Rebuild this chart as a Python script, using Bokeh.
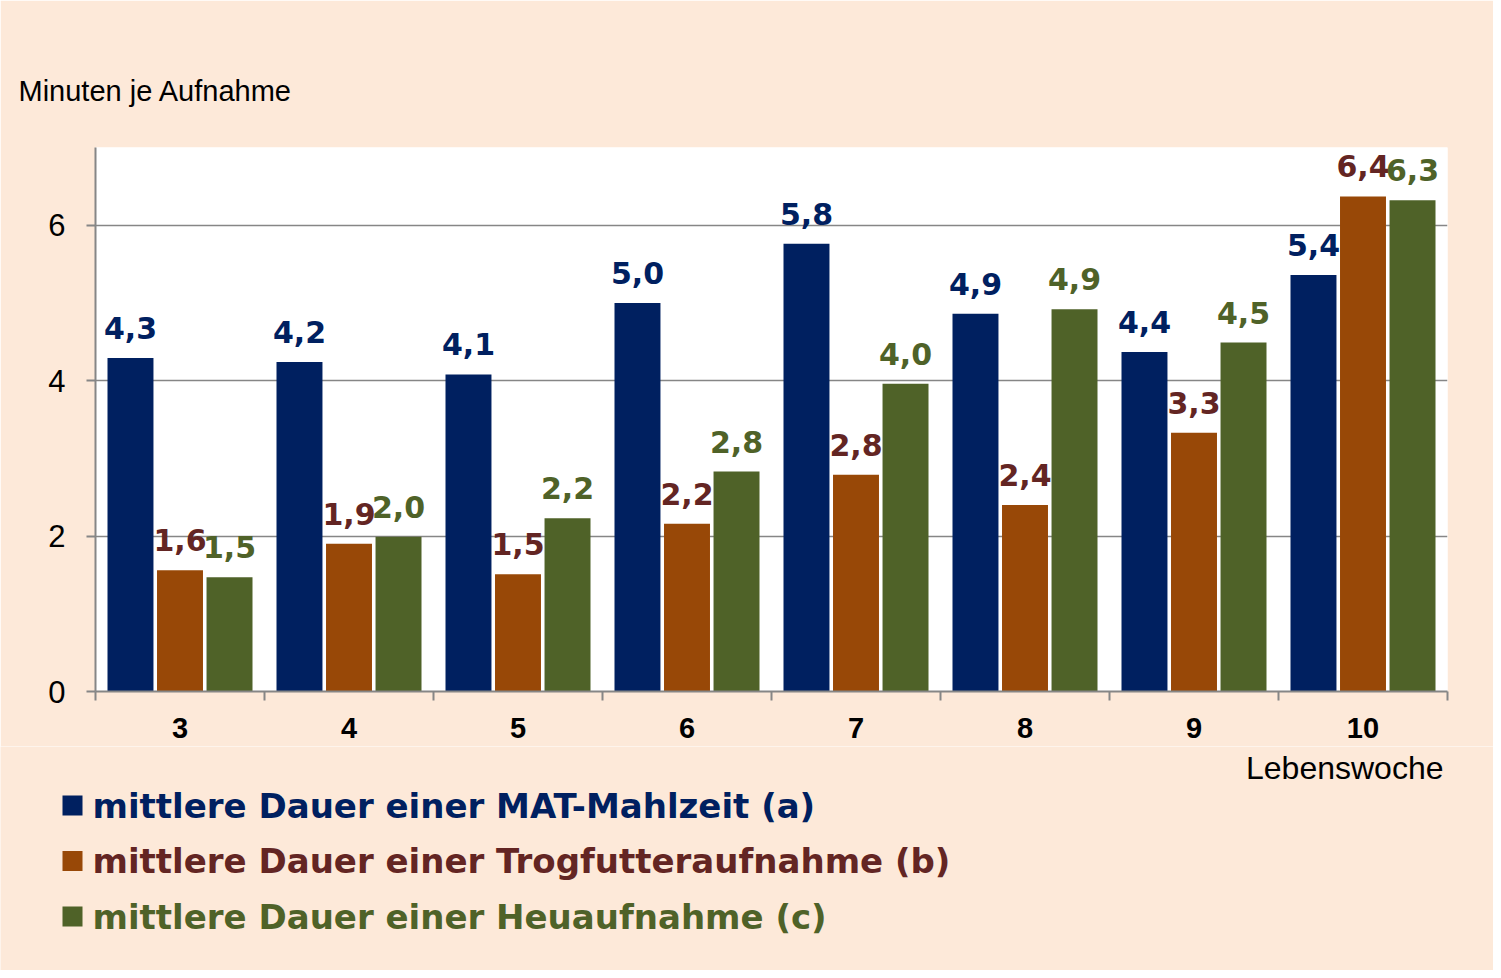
import numpy as np
from bokeh.plotting import figure
from bokeh.models import (ColumnDataSource, Range1d, FixedTicker, LabelSet)
from bokeh.core.properties import value
from bokeh.embed import file_html
from bokeh.resources import INLINE

# ---------------- data ----------------
weeks = ["3", "4", "5", "6", "7", "8", "9", "10"]
mat_mahlzeit = [4.29, 4.24, 4.08, 5.00, 5.76, 4.86, 4.37, 5.36]
trogfutter = [1.56, 1.90, 1.51, 2.16, 2.79, 2.40, 3.33, 6.37]
heu = [1.47, 1.99, 2.23, 2.83, 3.96, 4.92, 4.49, 6.32]
series_names = [
    "mittlere Dauer einer MAT-Mahlzeit (a)",
    "mittlere Dauer einer Trogfutteraufnahme (b)",
    "mittlere Dauer einer Heuaufnahme (c)",
]
y_ticks = [0, 2, 4, 6]
y_title = "Minuten  je Aufnahme"
x_title = "Lebenswoche"

# ---------------- style ----------------
BG = "#FDE9D9"
GRAY = "#868686"
bar_colors = ["#002060", "#984807", "#4F6228"]
text_colors = ["#002060", "#632523", "#4F6228"]
offsets = [-0.293, 0.0, 0.293]
BAR_W = 0.272
TOTAL_W = 1493

n = len(weeks)
pos = np.arange(n) + 0.5

p = figure(frame_width=1352, frame_height=544,
           x_range=Range1d(0, n), y_range=Range1d(0, 7),
           output_backend="svg", toolbar_location=None,
           min_border_left=95, min_border_top=147,
           min_border_right=46, min_border_bottom=55,
           background_fill_color="white", border_fill_color=BG,
           outline_line_color=None)

for vals, off, bc, tc in zip([mat_mahlzeit, trogfutter, heu], offsets, bar_colors, text_colors):
    src = ColumnDataSource(dict(
        x=pos + off,
        top=vals,
        label=[f"{v:.1f}".replace(".", ",") for v in vals],
    ))
    p.vbar(x="x", top="top", width=BAR_W, source=src,
           fill_color=bc, line_color=None)
    p.add_layout(LabelSet(x="x", y="top", text="label", source=src,
                          y_offset=19, text_align="center", text_baseline="alphabetic",
                          text_font=value("DejaVu Sans"), text_font_style="bold",
                          text_font_size="30px", text_color=tc))

# ---------------- title ----------------
p.title.text = y_title
p.title.align = "left"
p.title.offset = -77
p.title.standoff = 82
p.title.text_font = "Liberation Sans"
p.title.text_font_style = "normal"
p.title.text_font_size = "29px"
p.title.text_color = "black"

# ---------------- axes ----------------
xa = p.xaxis[0]
xa.ticker = FixedTicker(ticks=list(pos), minor_ticks=list(range(n + 1)))
xa.major_label_overrides = {float(x): w for x, w in zip(pos, weeks)}
xa.major_tick_out = 0
xa.major_tick_in = 0
xa.minor_tick_out = 9
xa.minor_tick_in = 0
xa.minor_tick_line_color = GRAY
xa.minor_tick_line_width = 2
xa.axis_line_color = GRAY
xa.axis_line_width = 2
xa.major_label_standoff = 17
xa.major_label_text_font = "Liberation Sans"
xa.major_label_text_font_style = "bold"
xa.major_label_text_font_size = "29px"
xa.major_label_text_color = "black"

ya = p.yaxis[0]
ya.ticker = FixedTicker(ticks=y_ticks)
ya.major_tick_out = 9
ya.major_tick_in = 0
ya.minor_tick_out = 0
ya.minor_tick_in = 0
ya.major_tick_line_color = GRAY
ya.major_tick_line_width = 2
ya.axis_line_color = GRAY
ya.axis_line_width = 2
ya.major_label_standoff = 21
ya.major_label_text_font = "Liberation Sans"
ya.major_label_text_font_size = "31px"
ya.major_label_text_color = "black"

p.xgrid.visible = False
p.ygrid.grid_line_color = GRAY
p.ygrid.grid_line_width = 1.5

# ---------------- lower panel: axis title + legend ----------------
LH = 224
q = figure(frame_width=TOTAL_W, frame_height=LH,
           x_range=Range1d(0, TOTAL_W), y_range=Range1d(LH, 0),
           output_backend="svg", toolbar_location=None,
           min_border=0, x_axis_location=None, y_axis_location=None,
           background_fill_color=BG, border_fill_color=BG,
           outline_line_color=None)
q.xgrid.visible = False
q.ygrid.visible = False

q.text(x=[1443], y=[21], text=[x_title], text_align="right",
       text_baseline="alphabetic", text_font=value("Liberation Sans"),
       text_font_size="32px", text_color="black")

row_y = [59, 114.5, 170]
leg = ColumnDataSource(dict(
    sx=[72] * 3, sy=row_y,
    tx=[92] * 3, ty=[y + 0 for y in row_y],
    name=series_names, fc=bar_colors, tc=text_colors,
))
q.scatter(x="sx", y="sy", marker="square", size=20, source=leg,
          fill_color="fc", line_color=None)
q.text(x="tx", y="ty", text="name", source=leg, text_align="left",
       text_baseline="alphabetic", text_font=value("DejaVu Sans"),
       text_font_style="bold", text_font_size="34px", text_color="tc")

open("out.html", "w").write(file_html([p, q], INLINE))
